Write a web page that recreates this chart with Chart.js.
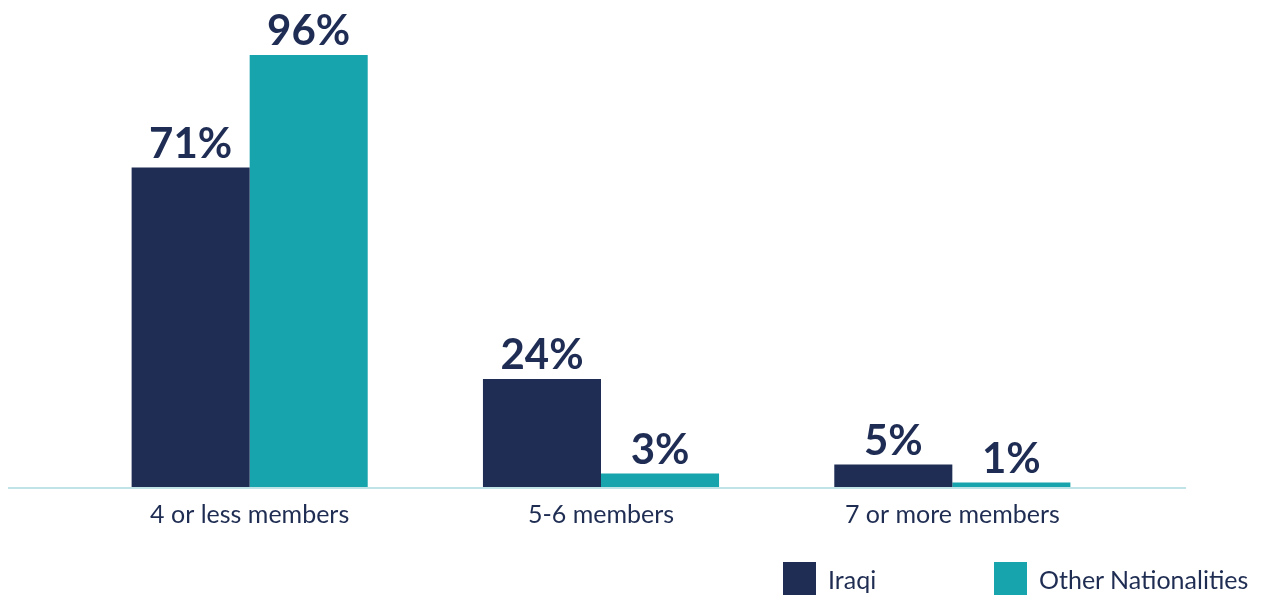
<!DOCTYPE html>
<html>
<head>
<meta charset="utf-8">
<script src="https://cdn.jsdelivr.net/npm/chart.js@4"></script>
<style>
  body { margin: 0; background: #fff; font-family: Lato, "Open Sans", sans-serif; }
  #wrap { position: relative; width: 1268px; height: 596px; }
  #legend { position: absolute; left: 0; top: 0; }
  .item { position: absolute; display: flex; align-items: center; font-size: 25px; color: #1f2d53; white-space: nowrap; }
  .box { width: 33px; height: 33px; margin-right: 12px; flex-shrink: 0; }
</style>
</head>
<body>
<div id="wrap">
  <canvas id="barChart" width="1268" height="596"></canvas>
  <div id="legend"></div>
</div>
<script>
'use strict';

const categories = ['4 or less members', '5-6 members', '7 or more members'];
const iraqi = [71, 24, 5];
const otherNationalities = [96, 3, 1];
const seriesNames = ['Iraqi', 'Other Nationalities'];
const seriesColors = ['#1f2d54', '#17a4ad'];

// value labels above each bar
let valueLabels = {
  id: 'valueLabels',
  afterDatasetsDraw(chart) {
    let ctx = chart.ctx;
    ctx.save();
    ctx.fillStyle = '#1f2d54';
    ctx.font = 'bold 42px Lato';
    ctx.textAlign = 'center';
    ctx.textBaseline = 'alphabetic';
    chart.data.datasets.forEach(function(ds, i) {
      chart.getDatasetMeta(i).data.forEach(function(bar, j) {
        ctx.fillText(ds.data[j] + '%', bar.x, bar.y - 10);
      });
    });
    ctx.restore();
  }
};

// long light baseline under the bars
let baseLine = {
  id: 'baseLine',
  afterDatasetsDraw(chart) {
    let ctx = chart.ctx;
    let y = chart.scales.y.getPixelForValue(0) + 1;
    ctx.save();
    ctx.strokeStyle = '#bfe3e6';
    ctx.lineWidth = 2;
    ctx.beginPath();
    ctx.moveTo(8, y);
    ctx.lineTo(1186, y);
    ctx.stroke();
    ctx.restore();
  }
};

let chart = new Chart(document.getElementById('barChart').getContext('2d'), {
  type: 'bar',
  data: {
    labels: categories,
    datasets: [
      { label: seriesNames[0], data: iraqi, backgroundColor: seriesColors[0] },
      { label: seriesNames[1], data: otherNationalities, backgroundColor: seriesColors[1] }
    ]
  },
  options: {
    responsive: false,
    animation: false,
    categoryPercentage: 0.672,
    barPercentage: 1,
    layout: { padding: { left: 74, right: 140, top: 37, bottom: 0 } },
    plugins: {
      legend: { display: false },
      tooltip: { enabled: false }
    },
    scales: {
      y: { display: false, min: 0, max: 100 },
      x: {
        grid: { display: false, drawTicks: false },
        border: { display: false },
        ticks: { color: '#1f2d53', font: { family: 'Lato', size: 25 }, padding: 13 },
        afterFit: function(scale) { scale.height = 109; }
      }
    }
  },
  plugins: [baseLine, valueLabels]
});

// legend
let legendPos = [783, 994];
let legend = document.getElementById('legend');
seriesNames.forEach(function(name, i) {
  let item = document.createElement('div');
  item.className = 'item';
  item.style.left = legendPos[i] + 'px';
  item.style.top = '562px';
  item.innerHTML = '<div class="box" style="background:' + seriesColors[i] + '"></div><span>' + name + '</span>';
  legend.appendChild(item);
});
</script>
</body>
</html>
